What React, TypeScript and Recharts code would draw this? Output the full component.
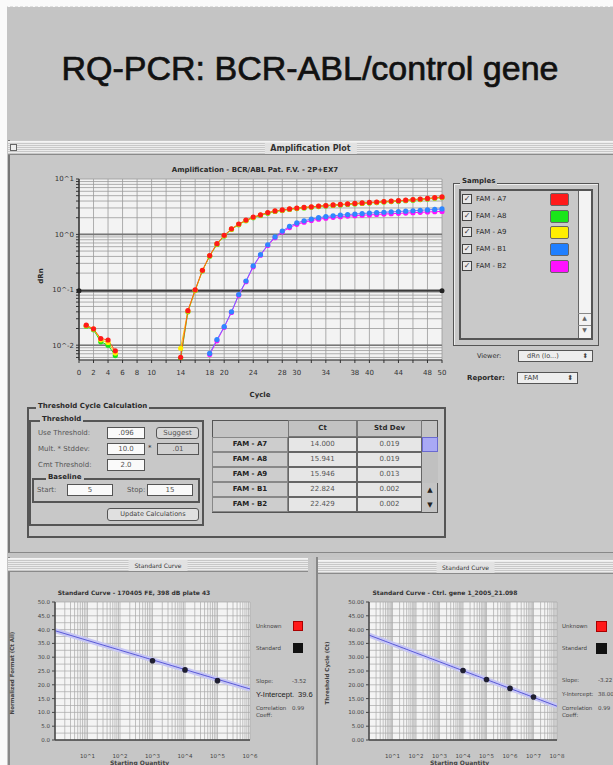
import React from 'react';
import {
  LineChart, Line, XAxis, YAxis, CartesianGrid, ReferenceLine, ReferenceDot,
  ComposedChart, Scatter,
} from 'recharts';

// ---- amplification plot data (dRn per cycle) ----
const cycles = [
  1, 2, 3, 4, 5, 6, 7, 8, 9, 10, 11, 12, 13, 14, 15, 16, 17, 18, 19, 20, 21, 22, 23, 24, 25,
  26, 27, 28, 29, 30, 31, 32, 33, 34, 35, 36, 37, 38, 39, 40, 41, 42, 43, 44, 45, 46, 47, 48, 49, 50,
];
const famA7 = [
  0.023, 0.0197, 0.0132, 0.0124, 0.0079, null, null, null, null, null, null, null, null, 0.006, 0.042,
  0.1, 0.225, 0.415, 0.68, 0.96, 1.26, 1.54, 1.81, 2.05, 2.26, 2.48, 2.65, 2.76, 2.88, 2.99,
  3.07, 3.15, 3.24, 3.32, 3.4, 3.47, 3.55, 3.62, 3.7, 3.77, 3.84, 3.92, 4.0, 4.07, 4.15,
  4.25, 4.35, 4.46, 4.6, 4.74,
];
const famA8 = [
  0.022, 0.019, 0.0115, 0.01, 0.0065, null, null, null, null, null, null, null, null, 0.0056, 0.04,
  0.097, 0.22, 0.405, 0.66, 0.94, 1.23, 1.5, 1.77, 2.0, 2.2, 2.42, 2.59, 2.7, 2.82, 2.93,
  3.01, 3.09, 3.18, 3.26, 3.33, 3.4, 3.48, 3.55, 3.62, 3.69, 3.76, 3.84, 3.91, 3.98, 4.06,
  4.15, 4.25, 4.36, 4.49, 4.62,
];
const famA9 = [
  0.0225, 0.0195, 0.0125, 0.0112, 0.0072, null, null, null, null, null, null, null, null, 0.0088, 0.041,
  0.098, 0.222, 0.41, 0.67, 0.95, 1.24, 1.52, 1.79, 2.02, 2.23, 2.45, 2.62, 2.73, 2.85, 2.96,
  3.04, 3.12, 3.21, 3.29, 3.37, 3.44, 3.52, 3.59, 3.66, 3.73, 3.8, 3.88, 3.96, 4.03, 4.11,
  4.2, 4.3, 4.41, 4.55, 4.68,
];
const famB1 = [
  null, null, null, null, null, null, null, null, null, null, null, null, null, null, null,
  null, null, 0.0071, 0.0126, 0.0216, 0.04, 0.082, 0.144, 0.27, 0.43, 0.65, 0.9, 1.15, 1.4, 1.61,
  1.76, 1.89, 2.0, 2.1, 2.17, 2.23, 2.28, 2.33, 2.38, 2.43, 2.47, 2.51, 2.55, 2.59, 2.63,
  2.67, 2.72, 2.77, 2.82, 2.88,
];
const famB2 = [
  null, null, null, null, null, null, null, null, null, null, null, null, null, null, null,
  null, null, 0.0068, 0.012, 0.021, 0.039, 0.08, 0.14, 0.26, 0.42, 0.63, 0.87, 1.1, 1.33, 1.52,
  1.66, 1.78, 1.88, 1.96, 2.03, 2.09, 2.14, 2.18, 2.22, 2.25, 2.29, 2.33, 2.36, 2.4, 2.43,
  2.47, 2.5, 2.54, 2.57, 2.6,
];
const threshold = 0.096;
const cycleTicks = [0, 2, 4, 6, 8, 10, 12, 14, 16, 18, 20, 22, 24, 26, 28, 30, 32, 34, 36, 38, 40, 42, 44, 46, 48, 50];
const cycleLabels = [0, 2, 4, 6, 8, 10, 14, 18, 20, 24, 28, 30, 34, 38, 40, 44, 48, 50];

// ---- samples / Ct table ----
const sampleNames = ['FAM - A7', 'FAM - A8', 'FAM - A9', 'FAM - B1', 'FAM - B2'];
const sampleColors = ['#ff1a1a', '#19e619', '#ffee00', '#1f7fff', '#ff10ff'];
const ctValues = ['14.000', '15.941', '15.946', '22.824', '22.429'];
const stdDevValues = ['0.019', '0.019', '0.013', '0.002', '0.002'];

// ---- standard curves ----
const stdQtyLeft = [1000, 10000, 100000];
const stdCtLeft = [28.7, 25.4, 21.5];
const slopeLeft = -3.52;
const interceptLeft = 39.6;
const stdQtyRight = [10000, 100000, 1000000, 10000000];
const stdCtRight = [25.2, 21.9, 18.7, 15.6];
const slopeRight = -3.22;
const interceptRight = 38.0;
const ctTicks = [0, 5, 10, 15, 20, 25, 30, 35, 40, 45, 50];
const ctGrid = [2.5, 7.5, 12.5, 17.5, 22.5, 27.5, 32.5, 37.5, 42.5, 47.5];

const logTicks = (lo: number, hi: number) => {
  const out: number[] = [];
  for (let e = lo; e < hi; e++) for (let m = 1; m < 10; m++) out.push(m * Math.pow(10, e));
  out.push(Math.pow(10, hi));
  return out;
};

const ampData = cycles.map((c, i) => ({
  cycle: c, a7: famA7[i], a8: famA8[i], a9: famA9[i], b1: famB1[i], b2: famB2[i],
}));
const drnTicks = [0.006, 0.007, 0.008, 0.009, ...logTicks(-2, 1)];

const ui = "'DejaVu Sans', sans-serif";
const txt = '#2a2a2a';

const box = (x: number, y: number, w: number, h: number, extra: React.CSSProperties = {}): React.CSSProperties => ({
  position: 'absolute', left: x, top: y, width: w, height: h, boxSizing: 'border-box', ...extra,
});

function Label({ x, y, children, size = 7, bold = false, color = txt, w, align, font = ui }: any) {
  return (
    <div style={{
      position: 'absolute', left: x, top: y, fontFamily: font, fontSize: size, fontWeight: bold ? 700 : 400,
      color, whiteSpace: 'nowrap', lineHeight: 1, width: w, textAlign: align,
    }}>{children}</div>
  );
}

function TitleBar({ x, y, w, title, small = false }: any) {
  return (
    <div style={box(x, y, w, 14, {
      background: 'repeating-linear-gradient(#ececec 0px, #ececec 1px, #c8c8c8 1px, #c8c8c8 2px)',
      borderTop: '1px solid #f4f4f4', borderBottom: '1px solid #8a8a8a',
    })}>
      <div style={{
        position: 'absolute', left: '50%', top: 1, transform: 'translateX(-50%)', background: '#e2e2e2',
        padding: '0 6px', fontFamily: ui, fontSize: small ? 6 : 8, fontWeight: small ? 400 : 700,
        color: '#333', lineHeight: '11px',
      }}>{title}</div>
    </div>
  );
}

function Field({ x, y, w, value, dim = false }: any) {
  return (
    <div style={box(x, y, w, 12, {
      background: dim ? '#d0d0d0' : '#fafafa', border: '1px solid #555', fontFamily: ui, fontSize: 7,
      textAlign: 'center', lineHeight: '10px', color: '#555',
    })}>{value}</div>
  );
}

function AmplificationChart() {
  return (
    <div style={{ position: 'absolute', left: 0, top: 160 }}>
      <LineChart width={460} height={240} data={ampData} margin={{ top: 19, right: 18, bottom: 20, left: 39 }}>
        <CartesianGrid stroke="#9a9a9a" strokeWidth={0.8} fill="#f3f3f3" />
        <XAxis
          dataKey="cycle" type="number" domain={[0, 50]} ticks={cycleTicks} interval={0}
          tickFormatter={(v: number) => (cycleLabels.includes(v) ? String(v) : '')}
          tick={{ fontSize: 7, fill: '#333', fontFamily: ui, dy: 5 }} tickLine={{ stroke: '#333' }} tickSize={3}
          axisLine={{ stroke: '#333' }} height={20}
        />
        <YAxis
          scale="log" domain={[0.0054, 10]} allowDataOverflow ticks={drnTicks} interval={0}
          tickFormatter={(v: number) => {
            const e = Math.log10(v);
            return Math.abs(e - Math.round(e)) < 1e-6 ? `10^${Math.round(e)}` : '';
          }}
          tick={{ fontSize: 7, fill: '#333', fontFamily: ui }} tickLine={{ stroke: '#333' }} tickSize={3}
          axisLine={{ stroke: '#333', strokeWidth: 1.5 }} width={40}
        />
        <ReferenceLine y={0.01} stroke="#777" strokeWidth={1.6} />
        <ReferenceLine y={1} stroke="#777" strokeWidth={1.6} />
        <ReferenceLine y={threshold} stroke="#3a3a3a" strokeWidth={2.2} />
        <ReferenceDot x={0} y={threshold} r={2.5} fill="#222" stroke="none" />
        <ReferenceDot x={50} y={threshold} r={2.5} fill="#222" stroke="none" />
        <Line dataKey="b2" stroke="#ff10ff" strokeWidth={1} dot={{ r: 2.6, fill: '#ff10ff', stroke: 'none' }} isAnimationActive={false} />
        <Line dataKey="b1" stroke="#6f6fff" strokeWidth={1} dot={{ r: 2.6, fill: '#2f86ff', stroke: 'none' }} isAnimationActive={false} />
        <Line dataKey="a8" stroke="#19e619" strokeWidth={1} dot={{ r: 2.6, fill: '#19e619', stroke: 'none' }} isAnimationActive={false} />
        <Line dataKey="a9" stroke="#ffcc00" strokeWidth={1} dot={{ r: 2.6, fill: '#ffee00', stroke: 'none' }} isAnimationActive={false} />
        <Line dataKey="a7" stroke="#ff5a1a" strokeWidth={1} dot={{ r: 2.6, fill: '#ff1a1a', stroke: 'none' }} isAnimationActive={false} />
      </LineChart>
    </div>
  );
}

function StandardCurve({ left, width, qty, ct, slope, intercept, maxExp, decimals, title, yLabel }: any) {
  const fit = [{ q: 1, c: intercept }, { q: Math.pow(10, maxExp), c: intercept + slope * maxExp }];
  const pts = qty.map((q: number, i: number) => ({ q, c: ct[i] }));
  return (
    <div style={{ position: 'absolute', left, top: 585 }}>
      <ComposedChart width={width} height={180} margin={{ top: 17, right: 18, bottom: 0, left: 20 }}>
        <CartesianGrid stroke="#a8a8a8" strokeWidth={0.7} fill="#f4f4f4" horizontalValues={[...ctTicks, ...ctGrid]} />
        <XAxis
          dataKey="q" type="number" scale="log" domain={[1, Math.pow(10, maxExp)]} ticks={logTicks(0, maxExp)}
          interval={0} allowDataOverflow
          tickFormatter={(v: number) => {
            const e = Math.log10(v);
            return Math.abs(e - Math.round(e)) < 1e-6 && e > 0 ? `10^${Math.round(e)}` : '';
          }}
          tick={{ fontSize: 5.5, fill: '#444', fontFamily: ui, dy: 6 }} tickLine={false}
          axisLine={{ stroke: '#444', strokeWidth: 1.5 }} height={25}
        />
        <YAxis
          dataKey="c" type="number" domain={[0, 50]} ticks={ctTicks} interval={0}
          tickFormatter={(v: number) => v.toFixed(decimals)}
          tick={{ fontSize: 5.5, fill: '#444', fontFamily: ui }} tickLine={{ stroke: '#444' }} tickSize={3}
          axisLine={{ stroke: '#444', strokeWidth: 1.5 }} width={width > 262 ? 35 : 34}
        />
        <Line data={fit} dataKey="c" stroke="#c6c6f4" strokeWidth={5} dot={false} isAnimationActive={false} />
        <Line data={fit} dataKey="c" stroke="#5a5ad6" strokeWidth={1} dot={false} isAnimationActive={false} />
        <Scatter data={pts} dataKey="c" fill="#1e1e30" isAnimationActive={false}
          shape={(p: any) => <circle cx={p.cx} cy={p.cy} r={2.8} fill="#1e1e30" />} />
      </ComposedChart>
      <Label x={0} y={5} w={width} align="center" size={6} bold color="#333">{title}</Label>
      <div style={{
        position: 'absolute', left: 12, top: 88, transform: 'translate(-50%,-50%) rotate(-90deg)',
        fontFamily: ui, fontSize: 5.5, fontWeight: 700, color: '#444', whiteSpace: 'nowrap',
      }}>{yLabel}</div>
    </div>
  );
}

export default function App() {
  return (
    <div style={{ position: 'absolute', left: 0, top: 0, width: 613, height: 765, background: '#c4c4c4', overflow: 'hidden' }}>
      {/* slide margins */}
      <div style={box(0, 0, 613, 7, { background: '#fafafa', borderBottom: '1px dashed #e0e0e0' })} />
      <div style={box(0, 0, 7, 765, { background: '#fafafa' })} />

      <div style={{
        position: 'absolute', left: 7, top: 48, width: 606, textAlign: 'center',
        fontFamily: "'Liberation Sans', Arial, sans-serif", fontSize: 34, color: '#111', lineHeight: '40px',
        WebkitTextStroke: '0.7px #111',
      }}>RQ-PCR: BCR-ABL/control gene</div>

      {/* Amplification window */}
      <div style={box(8, 140, 605, 413, { background: '#c8c8c8', borderLeft: '2px solid #777', borderBottom: '1px solid #888' })} />
      <TitleBar x={8} y={141} w={605} title="Amplification Plot" />
      <div style={box(10, 141, 7, 7, { border: '1px solid #666', background: '#eee', top: 144 })} />

      <AmplificationChart />
      <Label x={40} y={167} w={430} align="center" size={7} bold>Amplification - BCR/ABL Pat. F.V. - 2P+EX7</Label>
      <div style={{
        position: 'absolute', left: 33, top: 272, transform: 'rotate(-90deg)', fontFamily: ui, fontSize: 7,
        fontWeight: 700, color: txt,
      }}>dRn</div>
      <Label x={40} y={392} w={440} align="center" size={7} bold>Cycle</Label>

      {/* Samples panel */}
      <div style={box(453, 183, 146, 163, { border: '1px solid #555', boxShadow: 'inset 1px 1px 0 #eee' })} />
      <Label x={460} y={178} size={7} bold><span style={{ background: '#c8c8c8', padding: '0 2px' }}>Samples</span></Label>
      <div style={box(459, 189, 134, 151, { border: '2px solid #555', background: '#c9c9c9' })} />
      <div style={box(578, 191, 13, 147, { background: '#f3f3f3', borderLeft: '1px solid #666' })} />
      <div style={box(578, 313, 13, 12, { borderTop: '1px solid #888', fontSize: 6, textAlign: 'center', color: '#666', fontFamily: ui })}>▲</div>
      <div style={box(578, 325, 13, 12, { borderTop: '1px solid #888', fontSize: 6, textAlign: 'center', color: '#666', fontFamily: ui })}>▼</div>
      {sampleNames.map((n, i) => (
        <React.Fragment key={n}>
          <div style={box(462, 194 + i * 16.7, 10, 10, { border: '1px solid #444', background: '#e8e8e8', fontSize: 8, lineHeight: '8px', textAlign: 'center', fontFamily: ui, color: '#333' })}>✓</div>
          <Label x={476} y={196 + i * 16.7} size={7}>{n}</Label>
          <div style={box(550, 193 + i * 16.7, 19, 13, { background: sampleColors[i], border: '1px solid #666', borderRadius: 2 })} />
        </React.Fragment>
      ))}
      <Label x={477} y={353} size={6.5}>Viewer:</Label>
      <div style={box(518, 350, 75, 12, { background: '#eee', border: '1px solid #555', fontFamily: ui, fontSize: 6.5, lineHeight: '10px', paddingLeft: 8, color: '#444' })}>dRn (lo...)<span style={{ position: 'absolute', right: 4 }}>⬍</span></div>
      <Label x={467} y={375} size={7} bold>Reporter:</Label>
      <div style={box(517, 372, 61, 12, { background: '#eee', border: '1px solid #555', fontFamily: ui, fontSize: 7, lineHeight: '10px', paddingLeft: 6, color: '#444' })}>FAM<span style={{ position: 'absolute', right: 4 }}>⬍</span></div>

      {/* Threshold Cycle Calculation */}
      <div style={box(27, 407, 419, 131, { border: '2px solid #555' })} />
      <Label x={36} y={403} size={7} bold><span style={{ background: '#c8c8c8', padding: '0 2px' }}>Threshold Cycle Calculation</span></Label>
      <div style={box(29, 420, 175, 106, { border: '2px solid #555' })} />
      <Label x={40} y={416} size={7} bold><span style={{ background: '#c8c8c8', padding: '0 2px' }}>Threshold</span></Label>
      <Label x={38} y={430} size={7} color="#555">Use Threshold:</Label>
      <Field x={107} y={427} w={38} value=".096" />
      <div style={box(156, 427, 43, 12, { border: '1px solid #555', borderRadius: 3, fontFamily: ui, fontSize: 7, textAlign: 'center', lineHeight: '10px', color: '#555', background: '#d8d8d8' })}>Suggest</div>
      <Label x={38} y={446} size={7} color="#555">Mult. * Stddev:</Label>
      <Field x={107} y={443} w={38} value="10.0" />
      <Label x={148} y={445} size={7}>*</Label>
      <Field x={157} y={443} w={42} value=".01" dim />
      <Label x={38} y={462} size={7} color="#555">Cmt Threshold:</Label>
      <Field x={107} y={459} w={38} value="2.0" />
      <div style={box(32, 478, 168, 25, { border: '2px solid #555' })} />
      <Label x={46} y={474} size={7} bold><span style={{ background: '#c8c8c8', padding: '0 2px' }}>Baseline</span></Label>
      <Label x={37} y={487} size={7} color="#555">Start:</Label>
      <Field x={67} y={484} w={46} value="5" />
      <Label x={127} y={487} size={7} color="#555">Stop:</Label>
      <Field x={147} y={484} w={46} value="15" />
      <div style={box(107, 508, 92, 13, { border: '1px solid #555', borderRadius: 3, fontFamily: ui, fontSize: 6.5, textAlign: 'center', lineHeight: '11px', color: '#444', background: '#e0e0e0' })}>Update Calculations</div>

      {/* Ct table */}
      <div style={box(212, 420, 226, 93, { border: '1px solid #555', background: '#c4c4c4' })} />
      <div style={box(288, 420, 69, 17, { border: '1px solid #777', background: '#c2c2c2', fontFamily: ui, fontSize: 7, fontWeight: 700, textAlign: 'center', lineHeight: '15px', color: txt })}>Ct</div>
      <div style={box(357, 420, 65, 17, { border: '1px solid #777', background: '#c2c2c2', fontFamily: ui, fontSize: 7, fontWeight: 700, textAlign: 'center', lineHeight: '15px', color: txt })}>Std Dev</div>
      {sampleNames.map((n, i) => (
        <React.Fragment key={'row' + n}>
          <div style={box(212, 437 + i * 15, 76, 15, { border: '1px solid #888', background: '#cdcdcd', fontFamily: ui, fontSize: 7, fontWeight: 700, textAlign: 'center', lineHeight: '13px', color: '#222' })}>{n}</div>
          <div style={box(288, 437 + i * 15, 69, 15, { border: '1px solid #666', background: '#e6e6e6', fontFamily: ui, fontSize: 7, textAlign: 'center', lineHeight: '13px', color: '#555' })}>{ctValues[i]}</div>
          <div style={box(357, 437 + i * 15, 65, 15, { border: '1px solid #666', background: '#e6e6e6', fontFamily: ui, fontSize: 7, textAlign: 'center', lineHeight: '13px', color: '#555' })}>{stdDevValues[i]}</div>
        </React.Fragment>
      ))}
      <div style={box(422, 437, 16, 15, { background: '#a9a9f5', border: '1px solid #6a6ad0' })} />
      <div style={box(422, 452, 16, 31, { background: '#c0c0c0' })} />
      <div style={box(422, 483, 16, 15, { fontSize: 7, textAlign: 'center', fontFamily: ui, color: '#222', lineHeight: '15px' })}>▲</div>
      <div style={box(422, 498, 16, 15, { fontSize: 7, textAlign: 'center', fontFamily: ui, color: '#222', lineHeight: '15px' })}>▼</div>

      {/* Standard curve windows */}
      <div style={box(8, 557, 305, 208, { background: '#c6c6c6', borderLeft: '2px solid #888' })} />
      <TitleBar x={8} y={558} w={300} title="Standard Curve" small />

      <StandardCurve left={0} width={268} qty={stdQtyLeft} ct={stdCtLeft} slope={slopeLeft} intercept={interceptLeft}
        maxExp={6} decimals={1} title="Standard Curve - 170405 FE, 398 dB plate 43" yLabel="Normalized Format (Ct All)" />

      {/* left legend */}
      <Label x={256} y={624} size={5.5} color="#444">Unknown</Label>
      <div style={box(293, 621, 10, 10, { background: '#ff1a1a', border: '1px solid #a00' })} />
      <Label x={256} y={646} size={5.5} color="#444">Standard</Label>
      <div style={box(293, 643, 10, 10, { background: '#111' })} />
      <Label x={256} y={679} size={5.5} color="#444">Slope:</Label>
      <Label x={292} y={679} size={5.5} color="#444">{slopeLeft.toFixed(2)}</Label>
      <Label x={256} y={691} size={7.5} color="#222" font="'Liberation Sans', sans-serif">Y-Intercept.</Label>
      <Label x={298} y={691} size={7.5} color="#222" font="'Liberation Sans', sans-serif">{interceptLeft.toFixed(1)}</Label>
      <Label x={256} y={706} size={5.5} color="#444">Correlation</Label>
      <Label x={292} y={706} size={5.5} color="#444">0.99</Label>
      <Label x={256} y={713} size={5.5} color="#444">Coeff:</Label>
      <Label x={110} y={760} size={6} bold color="#444">Starting Quantity</Label>

      {/* right window drawn on top so that it clips the left legend */}
      <div style={box(313, 557, 300, 208, { background: '#c4c4c4' })} />
      <div style={box(316, 557, 297, 208, { background: '#c6c6c6', borderLeft: '2px solid #888' })} />
      <TitleBar x={318} y={560} w={295} title="Standard Curve" small />
      <StandardCurve left={315} width={260} qty={stdQtyRight} ct={stdCtRight} slope={slopeRight} intercept={interceptRight}
        maxExp={8} decimals={2} title="Standard Curve - Ctrl. gene 1_2005_21.098" yLabel="Threshold Cycle (Ct)" />

      {/* right legend */}
      <Label x={562} y={624} size={5.5} color="#444">Unknown</Label>
      <div style={box(596, 621, 11, 11, { background: '#ff1a1a', border: '1px solid #a00' })} />
      <Label x={562} y={646} size={5.5} color="#444">Standard</Label>
      <div style={box(596, 643, 11, 11, { background: '#111' })} />
      <Label x={562} y={678} size={5.5} color="#444">Slope:</Label>
      <Label x={598} y={678} size={5.5} color="#444">{slopeRight.toFixed(2)}</Label>
      <Label x={562} y={692} size={5.5} color="#444">Y-Intercept:</Label>
      <Label x={598} y={692} size={5.5} color="#444">{interceptRight.toFixed(2)}</Label>
      <Label x={562} y={706} size={5.5} color="#444">Correlation</Label>
      <Label x={598} y={706} size={5.5} color="#444">0.99</Label>
      <Label x={562} y={713} size={5.5} color="#444">Coeff:</Label>
      <Label x={430} y={760} size={6} bold color="#444">Starting Quantity</Label>
    </div>
  );
}
